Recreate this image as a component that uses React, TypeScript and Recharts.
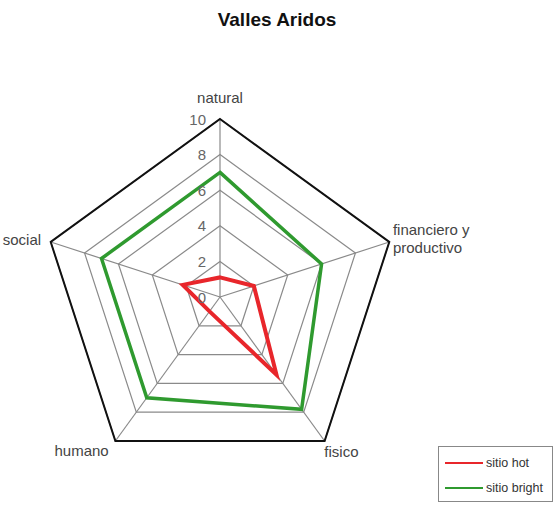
import {
  Legend,
  PolarAngleAxis,
  PolarGrid,
  PolarRadiusAxis,
  Radar,
  RadarChart,
} from 'recharts'

const FONT = '"Liberation Sans", Arial, sans-serif'

const axes = ['natural', 'financiero y productivo', 'fisico', 'humano', 'social']
const sitioHot = [1.1, 2, 5.4, 1, 2.2]
const sitioBright = [7, 6, 7.8, 7, 7]
const frame = [10, 10, 10, 10, 10]
const radiusTicks = [0, 2, 4, 6, 8, 10]
const legendOrder = ['sitio hot', 'sitio bright']

const data = axes.map((axis, i) => ({
  axis,
  hot: sitioHot[i],
  bright: sitioBright[i],
  frame: frame[i],
}))

// nudges for the category labels so they sit like the original
const labelOffsets: Record<string, { dx: number; dy: number; anchor: string }> = {
  natural: { dx: 0, dy: -13, anchor: 'middle' },
  'financiero y productivo': { dx: -4, dy: -1, anchor: 'start' },
  fisico: { dx: -5, dy: 5, anchor: 'start' },
  humano: { dx: -2, dy: 4, anchor: 'end' },
  social: { dx: -2, dy: 0, anchor: 'end' },
}

function AngleTick({ x, y, payload }: any) {
  const name = payload.value as string
  const o = labelOffsets[name] ?? { dx: 0, dy: 0, anchor: 'middle' }
  const lines = name === 'financiero y productivo' ? ['financiero y', 'productivo'] : [name]
  return (
    <text
      x={x + o.dx}
      y={y + o.dy}
      textAnchor={o.anchor}
      fill="#444"
      fontSize={15}
      fontFamily={FONT}
    >
      {lines.map((l, i) => (
        <tspan key={l} x={x + o.dx} dy={i === 0 ? (lines.length > 1 ? -4 : 5) : 18}>
          {l}
        </tspan>
      ))}
    </text>
  )
}

function RadiusTick({ x, y, payload }: any) {
  return (
    <text
      x={x - 14}
      y={y}
      textAnchor="end"
      dominantBaseline="central"
      fill="#666"
      fontSize={15}
      fontFamily={FONT}
    >
      {payload.value}
    </text>
  )
}

function LegendBox({ payload }: any) {
  const items = (payload ?? [])
    .filter((p: any) => p.type !== 'none')
    .sort((a: any, b: any) => legendOrder.indexOf(a.value) - legendOrder.indexOf(b.value))
  return (
    <div
      style={{
        border: '1px solid #888',
        height: 56,
        boxSizing: 'border-box',
        padding: '3px 4px 0 6px',
        background: '#fff',
        fontFamily: FONT,
        fontSize: 12.5,
        color: '#333',
      }}
    >
      {items.map((p: any) => (
        <div key={p.value} style={{ display: 'flex', alignItems: 'center', height: 25 }}>
          <span style={{ display: 'inline-block', width: 38, height: 2, background: p.color, marginRight: 3 }} />
          {p.value}
        </div>
      ))}
    </div>
  )
}

export default function App() {
  return (
    <div style={{ position: 'absolute', left: 0, top: 0, width: 554, height: 505, background: '#fff' }}>
      <div
        style={{
          position: 'absolute',
          top: 9,
          left: 0,
          width: 554,
          textAlign: 'center',
          fontFamily: FONT,
          fontWeight: 'bold',
          fontSize: 19,
          color: '#111',
        }}
      >
        Valles Aridos
      </div>
      <RadarChart width={554} height={505} data={data} cx={220} cy={297} outerRadius={178}>
        <PolarGrid gridType="polygon" stroke="#8a8a8a" strokeWidth={1.2} />
        <PolarAngleAxis dataKey="axis" tick={<AngleTick />} tickLine={false} axisLine={false} />
        <PolarRadiusAxis
          angle={90}
          domain={[0, 10]}
          ticks={radiusTicks as any}
          tickCount={6}
          axisLine={false}
          tick={<RadiusTick />}
        />
        <Radar
          dataKey="frame"
          name="frame"
          stroke="#111"
          strokeWidth={2}
          fill="none"
          legendType="none"
          isAnimationActive={false}
        />
        <Radar
          dataKey="hot"
          name="sitio hot"
          stroke="#e8262b"
          strokeWidth={4}
          fill="none"
          isAnimationActive={false}
        />
        <Radar
          dataKey="bright"
          name="sitio bright"
          stroke="#2f9a2f"
          strokeWidth={3.5}
          fill="none"
          isAnimationActive={false}
        />
        <Legend
          content={<LegendBox />}
          wrapperStyle={{ left: 438, top: 446, width: 115, bottom: 'auto' }}
        />
      </RadarChart>
    </div>
  )
}
